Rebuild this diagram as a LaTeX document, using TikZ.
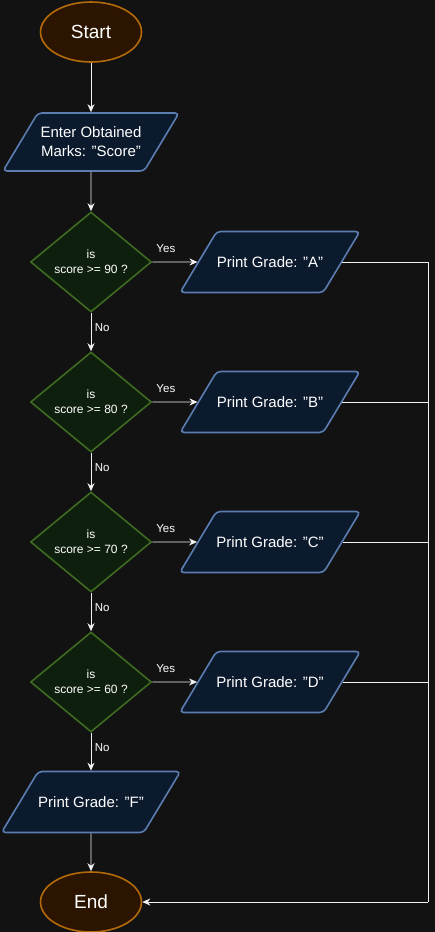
\documentclass[tikz,border=0pt]{standalone}
\usepackage{fontspec}
\setmainfont{Liberation Sans}
\usetikzlibrary{shapes.geometric,arrows.meta}
\definecolor{bgcol}{HTML}{121212}
\definecolor{ovalfill}{HTML}{2B1500}
\definecolor{ovaldraw}{HTML}{B46A08}
\definecolor{iofill}{HTML}{0C1A2E}
\definecolor{iodraw}{HTML}{5B7DB0}
\definecolor{testfill}{HTML}{0F1F0D}
\definecolor{testdraw}{HTML}{3E6B20}
\definecolor{linecol}{HTML}{F2F2F2}

\begin{document}
\begin{tikzpicture}[x=1pt,y=-1pt,
    terminal/.style={ellipse,draw=ovaldraw,fill=ovalfill,line width=1.6pt,
        minimum width=101pt,minimum height=60pt,inner sep=0pt,text=white,
        font=\fontsize{19}{22}\selectfont},
    iobox/.style={trapezium,trapezium left angle=59,trapezium right angle=121,
        trapezium stretches body,draw=iodraw,fill=iofill,line width=1.6pt,
        rounded corners=4pt,minimum width=176pt,inner xsep=0pt,inner ysep=25pt,
        text=white,align=center,font=\fontsize{15}{19}\selectfont},
    test/.style={diamond,draw=testdraw,fill=testfill,line width=1.6pt,aspect=1.21,
        minimum width=121pt,minimum height=100pt,inner sep=0pt,text=white,
        align=center,font=\fontsize{12}{15}\selectfont},
    flow/.style={draw=linecol,line width=0.9pt,-{Stealth[length=8pt,width=7pt,inset=2.5pt]}},
    wire/.style={draw=linecol,line width=0.9pt},
    tag/.style={text=white,font=\fontsize{11.5}{13}\selectfont}]
    \fill[bgcol] (0,0) rectangle (435,932);
    \useasboundingbox (0,0) rectangle (435,932);

    \node[terminal] (start) at (91,32) {Start};
    \node[iobox,inner ysep=14pt] (input) at (91,142) {Enter Obtained\\Marks: "Score"};
    \node[test] (q90) at (91,262) {is\\score >= 90 ?};
    \node[test] (q80) at (91,402) {is\\score >= 80 ?};
    \node[test] (q70) at (91,542) {is\\score >= 70 ?};
    \node[test] (q60) at (91,682) {is\\score >= 60 ?};
    \node[iobox] (gradeA) at (270,262) {Print Grade: "A"};
    \node[iobox] (gradeB) at (270,402) {Print Grade: "B"};
    \node[iobox] (gradeC) at (270,542) {Print Grade: "C"};
    \node[iobox] (gradeD) at (270,682) {Print Grade: "D"};
    \node[iobox] (gradeF) at (91,802) {Print Grade: "F"};
    \node[terminal] (end) at (91,902) {End};
    \coordinate (rail) at (428,902);

    \draw[flow] (start) -- (input);
    \draw[flow] (input) -- (q90);
    \draw[flow] (q90) -- node[tag,right,pos=0.38] {No} (q80);
    \draw[flow] (q80) -- node[tag,right,pos=0.38] {No} (q70);
    \draw[flow] (q70) -- node[tag,right,pos=0.38] {No} (q60);
    \draw[flow] (q60) -- node[tag,right,pos=0.38] {No} (gradeF);
    \draw[flow] (gradeF) -- (end);
    \draw[flow] (q90.east) -- node[tag,above=6pt,pos=0.3] {Yes} (gradeA.west);
    \draw[flow] (q80.east) -- node[tag,above=6pt,pos=0.3] {Yes} (gradeB.west);
    \draw[flow] (q70.east) -- node[tag,above=6pt,pos=0.3] {Yes} (gradeC.west);
    \draw[flow] (q60.east) -- node[tag,above=6pt,pos=0.3] {Yes} (gradeD.west);
    \draw[wire] (gradeA.east) -| (rail);
    \draw[wire] (gradeB.east) -- (gradeB.east -| rail);
    \draw[wire] (gradeC.east) -- (gradeC.east -| rail);
    \draw[wire] (gradeD.east) -- (gradeD.east -| rail);
    \draw[flow] (rail) -- (end);
\end{tikzpicture}
\end{document}
